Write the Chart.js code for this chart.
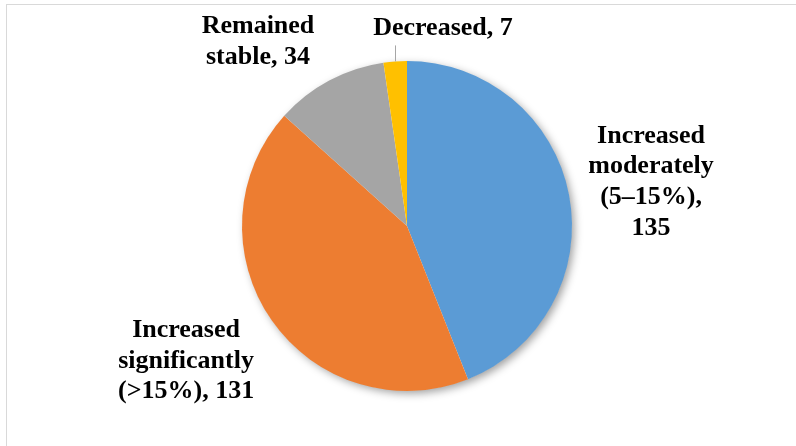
<!DOCTYPE html>
<html>
<head>
<meta charset="utf-8">
<script src="https://cdn.jsdelivr.net/npm/chart.js@4"></script>
<style>
  html,body{margin:0;padding:0;background:#fff;overflow:hidden;}
  #wrap{position:relative;width:796px;height:446px;}
  #frame{position:absolute;left:6px;top:4px;width:900px;height:600px;border:1.5px solid #d9d9d9;box-sizing:border-box;}
  canvas{position:absolute;left:0;top:0;}
</style>
</head>
<body>
<div id="wrap">
  <div id="frame"></div>
  <canvas id="pie" width="796" height="446"></canvas>
</div>
<script>
const categories = ["Increased moderately (5–15%)", "Increased significantly (>15%)", "Remained stable", "Decreased"];
const counts = [135, 131, 34, 7];
const colors = ["#5b9bd5", "#ed7d31", "#a5a5a5", "#ffc000"];

// label text, wrapped the way it sits next to each slice
const labelLines = [
    ["Increased", "moderately", "(5–15%),", String(counts[0])],
    ["Increased", "significantly", "(>15%), " + counts[1]],
    ["Remained", "stable, " + counts[2]],
    ["Decreased, " + counts[3]]
];
// where each label block is centred, in pie radii from the centre
const labelOffset = [[1.479, -0.267], [-1.339, 0.818], [-0.903, -1.115], [0.218, -1.2]];

const labelFont = 'bold 26px "Liberation Serif"';

// soft drop shadow under the whole pie
const pieShadow = {
    id: "pieShadow",
    beforeDatasetsDraw(chart){
        const arc = chart.getDatasetMeta(0).data[0];
        if(!arc) return;
        const ctx = chart.ctx;
        ctx.save();
        ctx.shadowColor = "rgba(0,0,0,0.38)";
        ctx.shadowBlur = 9;
        ctx.shadowOffsetX = 3;
        ctx.shadowOffsetY = 3;
        ctx.fillStyle = "#fff";
        ctx.beginPath();
        ctx.arc(arc.x, arc.y, arc.outerRadius - 0.5, 0, Math.PI*2);
        ctx.fill();
        ctx.restore();
    }
};

const sliceLabels = {
    id: "sliceLabels",
    afterDatasetsDraw(chart){
        const ctx = chart.ctx;
        const arcs = chart.getDatasetMeta(0).data;
        ctx.save();
        ctx.font = labelFont;
        ctx.fillStyle = "#000";
        ctx.textAlign = "center";
        ctx.textBaseline = "middle";
        const lh = 30.6;
        arcs.forEach((arc,i)=>{
            const r = arc.outerRadius;
            const cx = arc.x + labelOffset[i][0]*r;
            const cy = arc.y + labelOffset[i][1]*r;
            const lines = labelLines[i];
            const top = cy - (lines.length-1)*lh/2;
            lines.forEach((t,j)=>ctx.fillText(t, cx, top + j*lh));
        });
        // leader line for the thin "Decreased" slice
        const a = arcs[3];
        const mid = (a.startAngle + a.endAngle)/2;
        const ex = a.x + Math.cos(mid)*a.outerRadius;
        const ey = a.y + Math.sin(mid)*a.outerRadius;
        ctx.strokeStyle = "#a6a6a6";
        ctx.lineWidth = 1;
        ctx.beginPath();
        ctx.moveTo(Math.round(ex)+0.5, ey);
        ctx.lineTo(Math.round(ex)+0.5, ey - 16);
        ctx.stroke();
        ctx.restore();
    }
};

new Chart(document.getElementById("pie"),{
    type:"pie",
    data:{
        labels:categories,
        datasets:[{
            data:counts,
            backgroundColor:colors,
            borderWidth:0
        }]
    },
    options:{
        responsive:false,
        animation:false,
        layout:{padding:{left:242, right:224, top:61, bottom:55}},
        plugins:{legend:{display:false}, tooltip:{enabled:false}}
    },
    plugins:[pieShadow, sliceLabels]
});
</script>
</body>
</html>
